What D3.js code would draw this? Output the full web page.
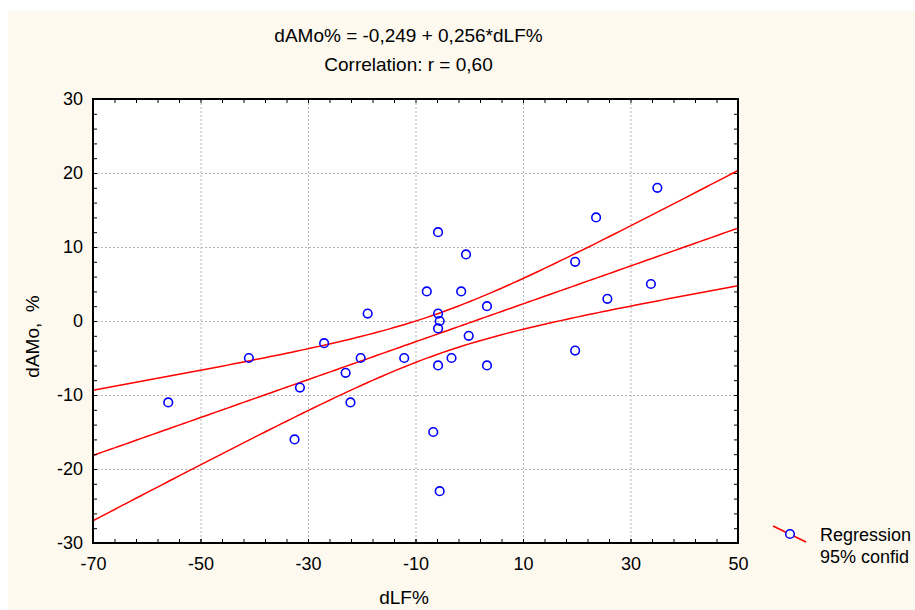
<!DOCTYPE html>
<html>
<head>
<meta charset="utf-8">
<script src="https://cdn.jsdelivr.net/npm/d3@7/dist/d3.min.js"></script>
<style>
  html, body { margin: 0; padding: 0; background: #ffffff; }
  svg { display: block; font-family: "Liberation Sans", Arial, sans-serif; }
</style>
</head>
<body>
<svg id="chart" width="915" height="610"></svg>
<script>
// Observations: change of LF power (%) vs change of AMo (%)
const dLF = [-56, -41, -31.5, -32.5, -27, -23, -22.1, -20.2, -18.9, -12.1,
             -7.9, -5.8, -5.8, -5.5, -5.8, -5.8, -6.7, -5.5, -3.3, -1.5,
             -0.6, -0.1, 3.3, 3.3, 19.7, 19.7, 23.6, 25.7, 33.8, 35];
const dAMo = [-11, -5, -9, -16, -3, -7, -11, -5, 1, -5,
              4, 12, 1, 0, -1, -6, -15, -23, -5, 4,
              9, -2, 2, -6, 8, -4, 14, 3, 5, 18];

// Fitted model as reported in the header
const intercept = -0.249;
const slope = 0.256;
const tCrit = 2.048; // t(0.975, df = 28)

const xTicks = [-70, -50, -30, -10, 10, 30, 50];
const yTicks = [-30, -20, -10, 0, 10, 20, 30];
const xMinor = d3.range(-70, 50.1, 4);
const yMinor = d3.range(-30, 30.1, 2);

const svg = d3.select("#chart");
const W = 915, H = 610;
const plot = { left: 93, right: 738, top: 99, bottom: 543 };

// panel background
svg.append("rect").attr("x", 8).attr("y", 11).attr("width", W - 8).attr("height", H - 11)
  .attr("fill", "#fdf9ef");

const x = d3.scaleLinear().domain([-70, 50]).range([plot.left, plot.right]);
const y = d3.scaleLinear().domain([-30, 30]).range([plot.bottom, plot.top]);

svg.append("rect").attr("x", plot.left).attr("y", plot.top)
  .attr("width", plot.right - plot.left).attr("height", plot.bottom - plot.top)
  .attr("fill", "#ffffff");

// dotted grid
const grid = svg.append("g").attr("stroke", "#b4b4b4").attr("stroke-width", 1)
  .attr("stroke-dasharray", "2,2");
grid.selectAll(".gx").data(xTicks.slice(1, -1)).join("line")
  .attr("x1", d => x(d) + 0.5).attr("x2", d => x(d) + 0.5)
  .attr("y1", plot.top).attr("y2", plot.bottom);
grid.selectAll(".gy").data(yTicks.slice(1, -1)).join("line")
  .attr("y1", d => Math.round(y(d)) + 0.5).attr("y2", d => Math.round(y(d)) + 0.5)
  .attr("x1", plot.left).attr("x2", plot.right);

// regression line and 95% confidence band
const n = dLF.length;
const xbar = d3.mean(dLF);
const sxx = d3.sum(dLF, v => (v - xbar) ** 2);
const sse = d3.sum(dLF.map((v, i) => (dAMo[i] - (intercept + slope * v)) ** 2));
const s = Math.sqrt(sse / (n - 2));
const fit = v => intercept + slope * v;
const half = v => tCrit * s * Math.sqrt(1 / n + (v - xbar) ** 2 / sxx);
const xs = d3.range(-70, 50.01, 1);

const line = d3.line().x(d => x(d[0])).y(d => y(d[1]));
const curves = [
  xs.map(v => [v, fit(v) + half(v)]),
  xs.map(v => [v, fit(v)]),
  xs.map(v => [v, fit(v) - half(v)])
];
svg.append("g").selectAll("path").data(curves).join("path")
  .attr("d", line).attr("fill", "none").attr("stroke", "#ff0000").attr("stroke-width", 1.5);

// points
svg.append("g").selectAll("circle").data(dLF).join("circle")
  .attr("cx", d => x(d)).attr("cy", (d, i) => y(dAMo[i])).attr("r", 4.3)
  .attr("fill", "none").attr("stroke", "#0000ff").attr("stroke-width", 1.6);

// axes with inward ticks on all four sides
const fmt = d => String(d); // plain hyphen-minus labels
function styleAxis(g) {
  g.select(".domain").remove();
  g.selectAll(".tick line").attr("stroke", "#000").attr("stroke-width", 1);
  g.selectAll("text").attr("font-size", 18).attr("fill", "#000")
    .attr("font-family", "'Liberation Sans', Arial, sans-serif");
}
const tl = -4;
svg.append("g").attr("transform", `translate(0,${plot.bottom})`)
  .call(d3.axisBottom(x).tickValues(xMinor).tickSize(tl).tickFormat("")).call(styleAxis);
svg.append("g").attr("transform", `translate(0,${plot.bottom})`)
  .call(d3.axisBottom(x).tickValues(xTicks).tickSize(tl).tickPadding(14).tickFormat(fmt))
  .call(styleAxis);
svg.append("g").attr("transform", `translate(0,${plot.top})`)
  .call(d3.axisTop(x).tickValues(xMinor).tickSize(tl).tickFormat("")).call(styleAxis);
svg.append("g").attr("transform", `translate(${plot.left},0)`)
  .call(d3.axisLeft(y).tickValues(yMinor).tickSize(tl).tickFormat("")).call(styleAxis);
svg.append("g").attr("transform", `translate(${plot.left},0)`)
  .call(d3.axisLeft(y).tickValues(yTicks).tickSize(tl).tickPadding(10).tickFormat(fmt))
  .call(styleAxis);
svg.append("g").attr("transform", `translate(${plot.right},0)`)
  .call(d3.axisRight(y).tickValues(yMinor).tickSize(tl).tickFormat("")).call(styleAxis);

// frame
svg.append("rect").attr("x", plot.left).attr("y", plot.top)
  .attr("width", plot.right - plot.left).attr("height", plot.bottom - plot.top)
  .attr("fill", "none").attr("stroke", "#000").attr("stroke-width", 2);

// header
svg.append("text").attr("x", 408.5).attr("y", 42).attr("text-anchor", "middle")
  .attr("font-size", 19).text("dAMo% = -0,249 + 0,256*dLF%");
svg.append("text").attr("x", 408.5).attr("y", 71).attr("text-anchor", "middle")
  .attr("font-size", 19).text("Correlation: r = 0,60");

// axis titles
svg.append("text").attr("x", 404).attr("y", 604).attr("text-anchor", "middle")
  .attr("font-size", 19).text("dLF%");
svg.append("text").attr("transform", "translate(39,336.5) rotate(-90)")
  .attr("text-anchor", "middle").attr("font-size", 19).style("white-space", "pre")
  .text("dAMo,  %");

// legend
const lg = svg.append("g");
lg.append("line").attr("x1", 773).attr("y1", 526).attr("x2", 806).attr("y2", 542)
  .attr("stroke", "#ff0000").attr("stroke-width", 1.5);
lg.append("circle").attr("cx", 790).attr("cy", 534).attr("r", 4.3)
  .attr("fill", "#ffffff").attr("stroke", "#0000ff").attr("stroke-width", 1.6);
lg.append("text").attr("x", 820).attr("y", 541).attr("font-size", 18).text("Regression");
lg.append("text").attr("x", 820).attr("y", 563).attr("font-size", 18).text("95% confid");
</script>
</body>
</html>
